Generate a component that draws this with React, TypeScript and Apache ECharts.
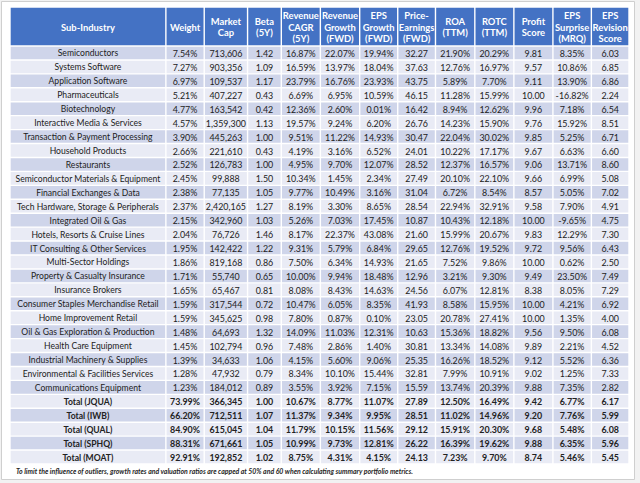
import React, { useEffect, useRef } from "react";
import * as echarts from "echarts";

const headers = [
  "Sub-Industry", "Weight", "Market\nCap", "Beta\n(5Y)", "Revenue\nCAGR\n(5Y)",
  "Revenue\nGrowth\n(FWD)", "EPS\nGrowth\n(FWD)", "Price-\nEarnings\n(FWD)", "ROA\n(TTM)",
  "ROTC\n(TTM)", "Profit\nScore", "EPS\nSurprise\n(MRQ)", "EPS\nRevision\nScore",
];

const subIndustries = [
  "Semiconductors", "Systems Software", "Application Software", "Pharmaceuticals", "Biotechnology",
  "Interactive Media & Services", "Transaction & Payment Processing", "Household Products", "Restaurants",
  "Semiconductor Materials & Equipment", "Financial Exchanges & Data", "Tech Hardware, Storage & Peripherals",
  "Integrated Oil & Gas", "Hotels, Resorts & Cruise Lines", "IT Consulting & Other Services",
  "Multi-Sector Holdings", "Property & Casualty Insurance", "Insurance Brokers",
  "Consumer Staples Merchandise Retail", "Home Improvement Retail", "Oil & Gas Exploration & Production",
  "Health Care Equipment", "Industrial Machinery & Supplies", "Environmental & Facilities Services",
  "Communications Equipment", "Total (JQUA)", "Total (IWB)", "Total (QUAL)", "Total (SPHQ)", "Total (MOAT)",
];

const weight = [7.54, 7.27, 6.97, 5.21, 4.77, 4.57, 3.90, 2.66, 2.52, 2.45, 2.38, 2.37, 2.15, 2.04, 1.95, 1.86, 1.71, 1.65, 1.59, 1.59, 1.48, 1.45, 1.39, 1.28, 1.23, 73.99, 66.20, 84.90, 88.31, 92.91];
const marketCap = [713606, 903356, 109537, 407227, 163542, 1359300, 445263, 221610, 126783, 99888, 77135, 2420165, 342960, 76726, 142422, 819168, 55740, 65467, 317544, 345625, 64693, 102794, 34633, 47932, 184012, 366345, 712511, 615045, 671661, 192852];
const beta = [1.42, 1.09, 1.17, 0.43, 0.42, 1.13, 1.00, 0.43, 1.00, 1.50, 1.05, 1.27, 1.03, 1.46, 1.22, 0.86, 0.65, 0.81, 0.72, 0.98, 1.32, 0.96, 1.06, 0.79, 0.89, 1.00, 1.07, 1.04, 1.05, 1.02];
const revenueCagr = [16.87, 16.59, 23.79, 6.69, 12.36, 19.57, 9.51, 4.19, 4.95, 10.34, 9.77, 8.19, 5.26, 8.17, 9.31, 7.50, 10.00, 8.08, 10.47, 7.80, 14.09, 7.48, 4.15, 8.34, 3.55, 10.67, 11.37, 11.79, 10.99, 8.75];
const revenueGrowth = [22.07, 13.97, 16.76, 6.95, 2.60, 9.24, 11.22, 3.16, 9.70, 1.45, 10.49, 3.30, 7.03, 22.37, 5.79, 6.34, 9.94, 8.43, 6.05, 0.87, 11.03, 2.86, 5.60, 10.10, 3.92, 8.77, 9.34, 10.15, 9.73, 4.31];
const epsGrowth = [19.94, 18.04, 23.93, 10.59, 0.01, 6.20, 14.93, 6.52, 12.07, 2.34, 3.16, 8.65, 17.45, 43.08, 6.84, 14.93, 18.48, 14.63, 8.35, 0.10, 12.31, 1.40, 9.06, 15.44, 7.15, 11.07, 9.95, 11.56, 12.81, 4.15];
const priceEarnings = [32.27, 37.63, 43.75, 46.15, 16.42, 26.76, 30.47, 24.01, 28.52, 27.49, 31.04, 28.54, 10.87, 21.60, 29.65, 21.65, 12.96, 24.56, 41.93, 23.05, 10.63, 30.81, 25.35, 32.81, 15.59, 27.89, 28.51, 29.12, 26.22, 24.13];
const roa = [21.90, 12.76, 5.89, 11.28, 8.94, 14.23, 22.04, 10.22, 12.37, 20.10, 6.72, 22.94, 10.43, 15.99, 12.76, 7.52, 3.21, 6.07, 8.58, 20.78, 15.36, 13.34, 16.26, 7.99, 13.74, 12.50, 11.02, 15.91, 16.39, 7.23];
const rotc = [20.29, 16.97, 7.70, 15.99, 12.62, 15.90, 30.02, 17.17, 16.57, 22.10, 8.54, 32.91, 12.18, 20.67, 19.52, 9.86, 9.30, 12.81, 15.95, 27.41, 18.82, 14.08, 18.52, 10.91, 20.39, 16.49, 14.96, 20.30, 19.62, 9.70];
const profitScore = [9.81, 9.57, 9.11, 10.00, 9.96, 9.76, 9.85, 9.67, 9.06, 9.66, 8.57, 9.58, 10.00, 9.83, 9.72, 10.00, 9.49, 8.38, 10.00, 10.00, 9.56, 9.89, 9.12, 9.02, 9.88, 9.42, 9.20, 9.68, 9.88, 8.74];
const epsSurprise = [8.35, 10.86, 13.90, -16.82, 7.18, 15.92, 5.25, 6.63, 13.71, 6.99, 5.05, 7.90, -9.65, 12.29, 9.56, 0.62, 23.50, 8.05, 4.21, 1.35, 9.50, 2.21, 5.52, 1.25, 7.35, 6.77, 7.76, 5.48, 6.35, 5.46];
const epsRevision = [6.03, 6.85, 6.86, 2.24, 6.54, 8.51, 6.71, 6.60, 8.60, 5.08, 7.02, 4.91, 4.75, 7.30, 6.43, 2.50, 7.49, 7.29, 6.92, 4.00, 6.08, 4.52, 6.36, 7.33, 2.82, 6.17, 5.99, 6.08, 5.96, 5.45];

const footnote =
  "To limit the influence of outliers, growth rates and valuation ratios are capped at 50% and 60 when calculating summary portfolio metrics.";

// layout (not data)
const colWidths = [155.7, 38.3, 43.3, 33.7, 39, 39.3, 38, 37.7, 39.3, 39, 39, 38.4, 37.6];
const colStarts: number[] = [];
{
  let acc = 0;
  for (const w of colWidths) {
    colStarts.push(acc);
    acc += w;
  }
}
const tableWidth = colWidths.reduce((a, b) => a + b, 0);
const FONT = "Lato, 'Liberation Sans', sans-serif";

const pct = (v: number) => v.toFixed(2) + "%";
const num = (v: number) => v.toFixed(2);
const cap = (v: number) => v.toLocaleString("en-US");

const columns: ((r: number) => string)[] = [
  (r) => subIndustries[r],
  (r) => pct(weight[r]),
  (r) => cap(marketCap[r]),
  (r) => num(beta[r]),
  (r) => pct(revenueCagr[r]),
  (r) => pct(revenueGrowth[r]),
  (r) => pct(epsGrowth[r]),
  (r) => num(priceEarnings[r]),
  (r) => pct(roa[r]),
  (r) => pct(rotc[r]),
  (r) => num(profitScore[r]),
  (r) => pct(epsSurprise[r]),
  (r) => num(epsRevision[r]),
];

export default function App() {
  const ref = useRef<HTMLDivElement>(null);
  useEffect(() => {
    document.body.style.margin = "0";
    if (!ref.current) return;
    const chart = echarts.init(ref.current, undefined, { renderer: "svg" });

    const bodyData: any[] = [];
    subIndustries.forEach((_, r) => {
      columns.forEach((_, c) => {
        bodyData.push([colStarts[c] + colWidths[c] / 2, r, c]);
      });
    });
    const headerData = headers.map((_, c) => [colStarts[c] + colWidths[c] / 2, 0, c]);

    const gap = 0.7;

    const cellRect = (api: any, c: number, r: number) => {
      const p0 = api.coord([colStarts[c], r]);
      const p1 = api.coord([colStarts[c] + colWidths[c], r]);
      const h = api.size([0, 1])[1];
      return { x: p0[0] + gap, y: p0[1] - h / 2 + gap, width: p1[0] - p0[0] - 2 * gap, height: h - 2 * gap, cx: (p0[0] + p1[0]) / 2, cy: p0[1] };
    };

    const option: any = {
      animation: false,
      backgroundColor: "#f2f2f2",
      graphic: [
        {
          type: "rect",
          z: -10,
          shape: { x: 1.5, y: 1.5, width: 633, height: 478 },
          style: { fill: "#ffffff", stroke: "#cfcfcf", lineWidth: 1 },
        },
        {
          type: "text",
          x: 16,
          y: 471,
          style: {
            text: footnote,
            font: `italic bold 6.9px ${FONT}`,
            fill: "#262626",
            verticalAlign: "middle",
          },
        },
      ],
      grid: [
        { left: 10, top: 7, width: 619, height: 39 },
        { left: 10, top: 46, width: 619, height: 418 },
      ],
      xAxis: [
        { type: "value", gridIndex: 0, min: 0, max: tableWidth, show: false },
        { type: "value", gridIndex: 1, min: 0, max: tableWidth, show: false },
      ],
      yAxis: [
        { type: "category", gridIndex: 0, data: ["header"], show: false },
        { type: "category", gridIndex: 1, data: subIndustries, inverse: true, show: false },
      ],
      series: [
        {
          type: "custom",
          xAxisIndex: 0,
          yAxisIndex: 0,
          data: headerData,
          renderItem: (params: any, api: any) => {
            const c = api.value(2);
            const cell = cellRect(api, c, 0);
            return {
              type: "group",
              children: [
                { type: "rect", shape: { x: cell.x, y: cell.y, width: cell.width, height: cell.height }, style: { fill: "#4472C4" } },
                {
                  type: "text",
                  style: {
                    text: headers[c],
                    x: cell.cx,
                    y: cell.cy + 0.5,
                    align: "center",
                    verticalAlign: "middle",
                    font: `bold 9.4px ${FONT}`,
                    lineHeight: 11.6,
                    fill: "#ffffff",
                  },
                },
              ],
            };
          },
        },
        {
          type: "custom",
          xAxisIndex: 1,
          yAxisIndex: 1,
          data: bodyData,
          renderItem: (params: any, api: any) => {
            const r = api.value(1);
            const c = api.value(2);
            const cell = cellRect(api, c, r);
            const isTotal = subIndustries[r].startsWith("Total");
            const size = c === 0 ? 8.6 : 8.9;
            return {
              type: "group",
              children: [
                { type: "rect", shape: { x: cell.x, y: cell.y, width: cell.width, height: cell.height }, style: { fill: r % 2 === 0 ? "#CFD5EA" : "#E9EBF5" } },
                {
                  type: "text",
                  style: {
                    text: columns[c](r),
                    x: cell.cx,
                    y: cell.cy + 0.5,
                    align: "center",
                    verticalAlign: "middle",
                    font: `${isTotal ? "bold " : ""}${size}px ${FONT}`,
                    fill: "#222222",
                  },
                },
              ],
            };
          },
        },
      ],
    };
    chart.setOption(option);
    return () => chart.dispose();
  }, []);
  return <div ref={ref} style={{ position: "absolute", left: 0, top: 0, width: 640, height: 483 }} />;
}
